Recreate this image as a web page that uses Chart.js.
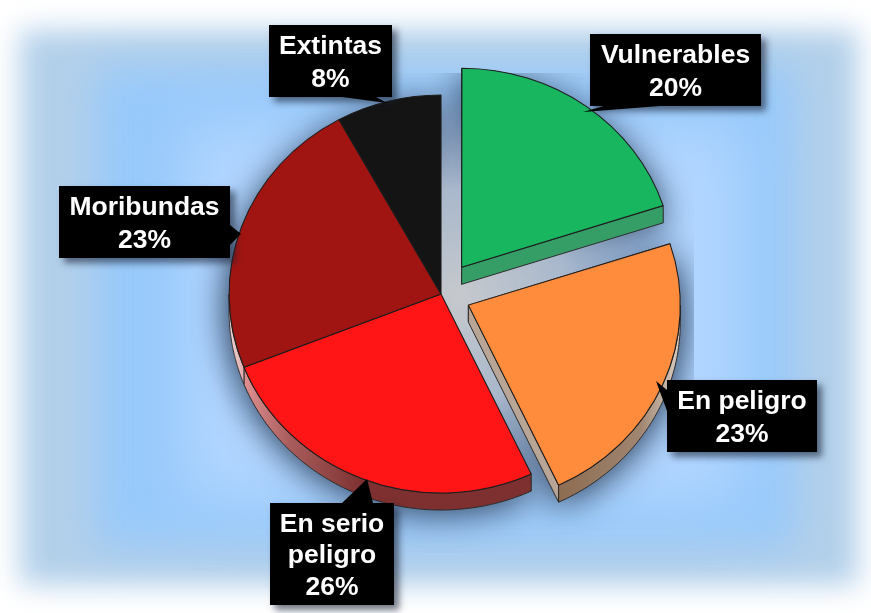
<!DOCTYPE html>
<html lang="es">
<head>
<meta charset="utf-8">
<title>Especies</title>
<script src="https://cdn.jsdelivr.net/npm/chart.js@4"></script>
<style>
html,body{margin:0;padding:0;background:#fff;overflow:hidden}
#page{position:relative;width:871px;height:613px;overflow:hidden;background:#fff}
.bg{position:absolute}
#b1{left:20px;top:30px;width:838px;height:555px;background:#b3d0ea;filter:blur(14px)}
#b2{left:95px;top:68px;width:700px;height:478px;background:#97c9fb;filter:blur(20px)}
#b3{left:185px;top:125px;width:555px;height:375px;background:#b2d6ff;filter:blur(30px)}
canvas{position:absolute;left:0;top:0}
</style>
</head>
<body>
<div id="page">
<div class="bg" id="b1"></div><div class="bg" id="b2"></div><div class="bg" id="b3"></div>
<canvas id="c" width="871" height="613"></canvas>
</div>
<script>
const categories = ["Vulnerables", "En peligro", "En serio peligro", "Moribundas", "Extintas"];
const values = [20, 23, 26, 23, 8];
const sliceColors = ["#17b65f", "#ff8b3c", "#ff1515", "#a01512", "#141414"];
const sliceOffsets = [33, 28, 0, 0, 0];

const stretchX = 1.065, depth = 17;
// side-wall colours: [x, colour] stops for the outer rim, and one colour for flat cut faces
const sideStops = [
  [[440, "#359e66"], [670, "#359e66"]],
  [[555, "#8c6b50"], [640, "#a08570"], [682, "#ddd2c8"]],
  [[235, "#eb9a9a"], [290, "#a85c5c"], [365, "#7e3030"], [535, "#7e3030"]],
  [[228, "#efd8d8"], [250, "#dd9a9a"]],
  [[300, "#333333"], [440, "#333333"]]
];
const faceColors = ["#359e66", "#b8a595", "#7e3030", "#7e2020", "#333333"];
// callout boxes: [left, top, right, bottom], pointer base A, base B, tip
const boxes = [
  {r:[590,34,761,106], a:[604,106], b:[660,106], t:[583,112]},
  {r:[667,380,817,452], a:[667,390], b:[667,411], t:[656,381]},
  {r:[270,503,394,605], a:[342,503], b:[373,503], t:[367,479]},
  {r:[59,186,230,258], a:[230,225], b:[230,245], t:[241,234]},
  {r:[269,25,392,97], a:[342,97], b:[376,97], t:[387,103]}
];
const growth = (arc, off) => off * (1 - Math.sin(Math.min(Math.PI, arc.circumference)));

const pie3d = {
  id: "pie3d",
  // Chart.js grows an offset arc a little: take that back so every slice has the same radius
  afterDatasetsUpdate(chart) {
    chart.getDatasetMeta(0).data.forEach((arc, i) => { arc.outerRadius -= growth(arc, sliceOffsets[i]); });
  },
  beforeDatasetDraw(chart) {
    const ctx = chart.ctx, arcs = chart.getDatasetMeta(0).data;
    const cx = arcs[0].x, cy = arcs[0].y;
    const geom = arcs.map((arc, i) => {
      const p = arc.getProps(["startAngle","endAngle","outerRadius"], true);
      const off = sliceOffsets[i], mid = (p.startAngle + p.endAngle) / 2;
      const R = p.outerRadius + growth(arc, off);
      const ox = cx + Math.cos(mid) * off * stretchX, oy = cy + Math.sin(mid) * off;
      return {a0: p.startAngle, a1: p.endAngle, mid, ox, oy, R, off};
    });
    // drop shadow of the pie, cut off by a rectangle
    ctx.save();
    ctx.beginPath(); ctx.rect(190, 73, 504, 480); ctx.clip();
    ctx.shadowColor = "rgba(40,60,90,0.75)"; ctx.shadowBlur = 34; ctx.shadowOffsetY = 6;
    ctx.fillStyle = "#8fa8c8";
    geom.forEach(g => [0, depth].forEach(dy => {
      ctx.beginPath();
      ctx.ellipse(g.ox, g.oy + dy, g.R * stretchX, g.R, 0, g.a0, g.a1);
      ctx.lineTo(g.ox, g.oy + dy); ctx.closePath(); ctx.fill();
    }));
    ctx.shadowColor = "transparent";
    const lg0 = ctx.createRadialGradient(458, 296, 0, 458, 296, 215);
    lg0.addColorStop(0, "rgba(198,201,205,1)");
    lg0.addColorStop(0.5, "rgba(172,186,206,0.95)");
    lg0.addColorStop(1, "rgba(145,170,205,0)");
    ctx.fillStyle = lg0;
    ctx.fillRect(190, 73, 504, 480);
    ctx.restore();
    // side walls
    ctx.save();
    ctx.lineWidth = 1; ctx.strokeStyle = "#2a2a2a"; ctx.lineJoin = "round";
    geom.forEach((g, i) => {
      const P = a => [g.ox + Math.cos(a) * g.R * stretchX, g.oy + Math.sin(a) * g.R];
      const face = q => {
        ctx.beginPath();
        ctx.moveTo(g.ox, g.oy); ctx.lineTo(q[0], q[1]); ctx.lineTo(q[0], q[1] + depth); ctx.lineTo(g.ox, g.oy + depth);
        ctx.closePath(); ctx.fillStyle = faceColors[i]; ctx.fill(); ctx.stroke();
      };
      if (g.off > 0) { face(P(g.a0)); face(P(g.a1)); }
      // only the front half of the rim can be seen
      const two = Math.PI * 2, k = Math.floor(g.mid / two);
      const a0 = Math.max(g.a0 - k * two, 0), a1 = Math.min(g.a1 - k * two, Math.PI);
      if (a1 > a0) {
        const lg = ctx.createLinearGradient(0, 0, 871, 0);
        sideStops[i].forEach(s => lg.addColorStop(s[0] / 871, s[1]));
        ctx.beginPath();
        for (let n = 0; n <= 80; n++) { const q = P(a0 + (a1 - a0) * n / 80); n ? ctx.lineTo(q[0], q[1]) : ctx.moveTo(q[0], q[1]); }
        for (let n = 80; n >= 0; n--) { const q = P(a0 + (a1 - a0) * n / 80); ctx.lineTo(q[0], q[1] + depth); }
        ctx.closePath(); ctx.fillStyle = lg; ctx.fill(); ctx.stroke();
      }
    });
    ctx.restore();
    // top faces are a Chart.js pie, stretched a little sideways
    ctx.save();
    ctx.translate(cx, cy); ctx.scale(stretchX, 1); ctx.translate(-cx, -cy);
  },
  afterDatasetDraw(chart) { chart.ctx.restore(); },
  afterDraw(chart) {
    const ctx = chart.ctx;
    ctx.save();
    ctx.font = 'bold 26.5px "Liberation Sans", Arial, sans-serif';
    ctx.textAlign = "center"; ctx.textBaseline = "middle";
    boxes.forEach((b, i) => {
      const [l, t, r, btm] = b.r;
      ctx.save();
      ctx.shadowColor = "rgba(20,30,50,0.6)"; ctx.shadowBlur = 7; ctx.shadowOffsetX = 5; ctx.shadowOffsetY = 5;
      ctx.fillStyle = "#000"; ctx.fillRect(l, t, r - l, btm - t);
      ctx.restore();
      ctx.fillStyle = "#000";
      ctx.beginPath(); ctx.moveTo(b.a[0], b.a[1]); ctx.lineTo(b.t[0], b.t[1]); ctx.lineTo(b.b[0], b.b[1]); ctx.closePath(); ctx.fill();
      // wrap the label to the box
      const lines = []; let cur = "";
      categories[i].split(" ").forEach(w => {
        const tryLine = cur ? cur + " " + w : w;
        if (ctx.measureText(tryLine).width > r - l - 16 && cur) { lines.push(cur); cur = w; } else cur = tryLine;
      });
      lines.push(cur); lines.push(values[i] + "%");
      const lh = lines.length > 2 ? 31.5 : 33;
      const midY = (t + btm) / 2 + 2, midX = (l + r) / 2;
      ctx.fillStyle = "#fff";
      lines.forEach((s, n) => ctx.fillText(s, midX, midY + (n - (lines.length - 1) / 2) * lh));
    });
    ctx.restore();
  }
};

new Chart(document.getElementById("c"), {
  type: "pie",
  data: {
    labels: categories,
    datasets: [{
      data: values,
      backgroundColor: sliceColors,
      borderColor: "#1c1c1c",
      borderWidth: 1,
      offset: sliceOffsets.map(v => v * 4)
    }]
  },
  options: {
    responsive: false,
    animation: false,
    radius: 199,
    layout: { padding: { left: 11, bottom: 25 } },
    plugins: { legend: { display: false }, tooltip: { enabled: false } }
  },
  plugins: [pie3d]
});
</script>
</body>
</html>
